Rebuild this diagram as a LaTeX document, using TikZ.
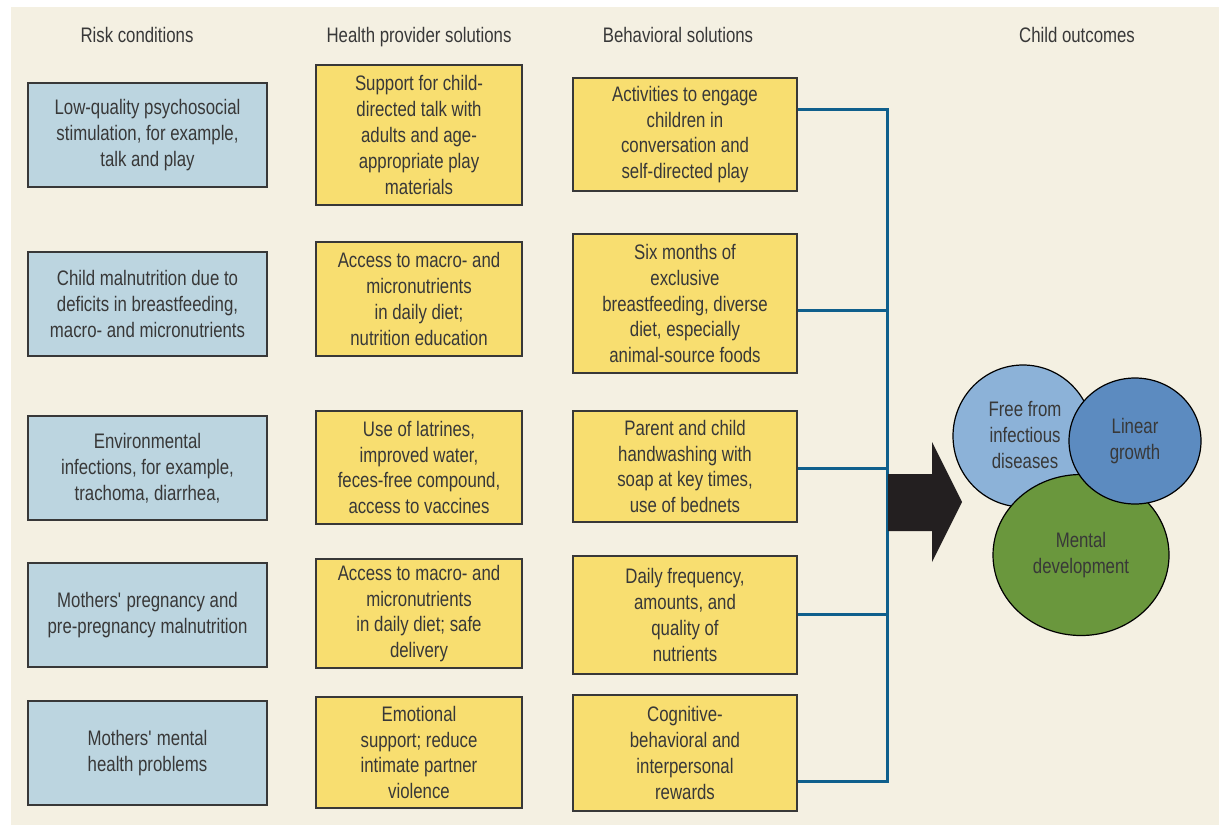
\documentclass[tikz,border=0pt]{standalone}
\usepackage{fontspec}
\setmainfont{Liberation Sans}[FakeStretch=0.8]
\usepackage{tikz}
\usetikzlibrary{shapes.geometric}
\definecolor{cream}{HTML}{F4F0E2}
\definecolor{riskblue}{HTML}{BCD5E0}
\definecolor{solyellow}{HTML}{F8DE70}
\definecolor{busblue}{HTML}{0F5F8C}
\definecolor{inkgray}{HTML}{383838}
\definecolor{arrowblack}{HTML}{231F20}
\definecolor{freeblue}{HTML}{8CB2D8}
\definecolor{lineblue}{HTML}{5C8BC0}
\definecolor{mentgreen}{HTML}{6A973D}
\tikzstyle{txt}=[text = inkgray, align = center, font = \fontsize{10.5}{12.9}\selectfont]
\tikzstyle{colHead}=[txt, anchor = base]
\tikzstyle{riskBox}=[txt, shape = rectangle, draw = inkgray, line width = 0.75pt, fill = riskblue, minimum width = 119.5pt, inner sep = 0pt]
\tikzstyle{solBox}=[txt, shape = rectangle, draw = inkgray, line width = 0.75pt, fill = solyellow, inner sep = 0pt]
\tikzstyle{outcome}=[txt, shape = ellipse, draw = black, line width = 0.6pt, inner sep = 0pt]

\begin{document}
\begin{tikzpicture}[x = 0.5pt, y = -0.5pt]
\tikzstyle{bus}=[draw = busblue, line width = 1.5pt]
\useasboundingbox (0,0) rectangle (1219,825);
\fill[cream] (11,7) rectangle (1219,825);
% column heads
\node[colHead] (hRisk) at (137,42) {Risk conditions};
\node[colHead] (hHealth) at (419,42) {Health provider solutions};
\node[colHead] (hBeh) at (678,42) {Behavioral solutions};
\node[colHead] (hChild) at (1077,42) {Child outcomes};
% risk conditions
\node[riskBox, minimum height = 52pt] (r1) at (147.5,135) {Low-quality psychosocial\\stimulation, for example,\\talk and play};
\node[riskBox, minimum height = 52pt] (r2) at (147.5,304) {Child malnutrition due to\\deficits in breastfeeding,\\macro- and micronutrients};
\node[riskBox, minimum height = 52pt] (r3) at (147.5,468) {Environmental\\infections, for example,\\trachoma, diarrhea,};
\node[riskBox, minimum height = 52pt] (r4) at (147.5,615) {Mothers\textquotesingle{} pregnancy and\\pre-pregnancy malnutrition};
\node[riskBox, minimum height = 52pt] (r5) at (147.5,753) {Mothers\textquotesingle{} mental\\health problems};
% health provider solutions
\node[solBox, minimum width = 103pt, minimum height = 70pt] (p1) at (419,135) {Support for child-\\directed talk with\\adults and age-\\appropriate play\\materials};
\node[solBox, minimum width = 103pt, minimum height = 57pt] (p2) at (419,299) {Access to macro- and\\micronutrients\\in daily diet;\\nutrition education};
\node[solBox, minimum width = 103pt, minimum height = 56.5pt] (p3) at (419,467.5) {Use of latrines,\\improved water,\\feces-free compound,\\access to vaccines};
\node[solBox, minimum width = 103pt, minimum height = 54.5pt] (p4) at (419,613.5) {Access to macro- and\\micronutrients\\in daily diet; safe\\delivery};
\node[solBox, minimum width = 103pt, minimum height = 55.5pt] (p5) at (419,752.5) {Emotional\\support; reduce\\intimate partner\\violence};
% behavioral solutions
\node[solBox, minimum width = 112pt, minimum height = 56.5pt] (b1) at (685,134.5) {Activities to engage\\children in\\conversation and\\self-directed play};
\node[solBox, minimum width = 112pt, minimum height = 69.5pt] (b2) at (685,303.5) {Six months of\\exclusive\\breastfeeding, diverse\\diet, especially\\animal-source foods};
\node[solBox, minimum width = 112pt, minimum height = 55.5pt] (b3) at (685,466.5) {Parent and child\\handwashing with\\soap at key times,\\use of bednets};
\node[solBox, minimum width = 112pt, minimum height = 59pt] (b4) at (685,615) {Daily frequency,\\amounts, and\\quality of\\nutrients};
\node[solBox, minimum width = 112pt, minimum height = 58pt] (b5) at (685,753) {Cognitive-\\behavioral and\\interpersonal\\rewards};
% bus to the outcomes
\coordinate (j1) at (887,109);
\coordinate (j2) at (887,310);
\coordinate (j3) at (887,468);
\coordinate (j4) at (887,614);
\coordinate (j5) at (887,781);
\foreach \i in {1,...,5}
  \draw[bus] (j\i -| b\i.east) -- (j\i);
\draw[bus, line cap = rect] (j1) -- (j5);
\fill[arrowblack] (888,474) -- (932,474) -- (932,442) -- (962,502) -- (932,562) -- (932,531) -- (888,531) -- cycle;
% child outcomes
\node[outcome, fill = freeblue, minimum width = 70pt, minimum height = 71pt] (o1) at (1023,436) {};
\node[txt] at (1025,435) {Free from\\infectious\\diseases};
\node[outcome, fill = mentgreen, minimum width = 88pt, minimum height = 80.5pt] (o3) at (1081,555) {Mental\\development};
\node[outcome, fill = lineblue, minimum width = 66pt, minimum height = 63pt] (o2) at (1135,441) {Linear\\growth};
\end{tikzpicture}
\end{document}
